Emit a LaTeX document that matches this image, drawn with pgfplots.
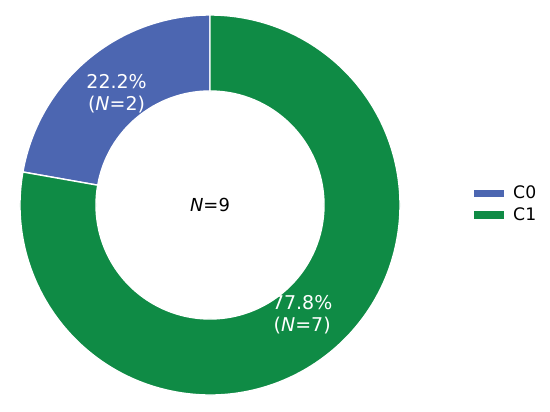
\documentclass[border=0pt]{standalone}
\usepackage{fontspec}
\setmainfont{DejaVu Sans}
\usepackage{pgfplots}
\usepackage{pgfplotstable}
\pgfplotsset{compat=1.18}
\definecolor{cA}{HTML}{4C66B1}
\definecolor{cB}{HTML}{0F8B45}
\pgfplotstableread{
label n
C0 2
C1 7
}\piedata
\begin{document}
\begin{tikzpicture}
\pgfplotstablegetelem{0}{n}\of\piedata \let\nA\pgfplotsretval
\pgfplotstablegetelem{1}{n}\of\piedata \let\nB\pgfplotsretval
\pgfmathsetmacro\tot{\nA+\nB}
\pgfmathsetmacro\aA{90+360*\nA/\tot}
\pgfmathsetmacro\mA{(90+\aA)/2}
\pgfmathsetmacro\mB{(\aA+450)/2}
\pgfmathsetmacro\pA{100*\nA/\tot}
\pgfmathsetmacro\pB{100*\nB/\tot}
\pgfmathtruncatemacro\totI{\tot}
\begin{axis}[scale only axis, width=11cm, height=8.22cm,
  xmin=-1.1053, xmax=1.7895, ymin=-1.0842, ymax=1.0789,
  hide axis, clip=false,
  /pgf/number format/assume math mode=true,
  legend image code/.code={\fill[#1] (0cm,-0.065cm) rectangle (0.58cm,0.065cm);},
  legend style={draw=none, fill=none, at={(axis cs:1.36,0.004)}, anchor=west,
    font=\fontsize{9.8}{11.8}\selectfont, row sep=-0.5pt,
    /tikz/every odd column/.append style={column sep=0.12cm}},
  legend cell align=left]
\addlegendimage{cA}\addlegendentry{C0}
\addlegendimage{cB}\addlegendentry{C1}
\path (rel axis cs:0,0) rectangle (rel axis cs:1,1);
\fill[cA, draw=white, line width=0.8pt] (axis cs:0,1) arc[start angle=90, end angle=\aA, radius=3.8cm]
  -- (axis cs:{0.6*cos(\aA)},{0.6*sin(\aA)}) arc[start angle=\aA, end angle=90, radius=2.28cm] -- cycle;
\fill[cB, draw=white, line width=0.8pt] (axis cs:{cos(\aA)},{sin(\aA)}) arc[start angle=\aA, end angle=450, radius=3.8cm]
  -- (axis cs:0,0.6) arc[start angle=450, end angle=\aA, radius=2.28cm] -- cycle;
\node[white, align=center, font=\fontsize{10.8}{12.7}\selectfont] at (axis cs:{0.765*cos(\mA)},{0.765*sin(\mA)})
  {\pgfmathprintnumber[fixed,fixed zerofill,precision=1,assume math mode=true]{\pA}\%\\(\textit{N}=\nA)};
\node[white, align=center, font=\fontsize{10.8}{12.7}\selectfont] at (axis cs:{0.755*cos(\mB)},{0.755*sin(\mB)})
  {\pgfmathprintnumber[fixed,fixed zerofill,precision=1,assume math mode=true]{\pB}\%\\(\textit{N}=\nB)};
\node[black, font=\fontsize{10.2}{12}\selectfont] at (axis cs:0,0) {\textit{N}=\totI};
\end{axis}
\end{tikzpicture}
\end{document}
